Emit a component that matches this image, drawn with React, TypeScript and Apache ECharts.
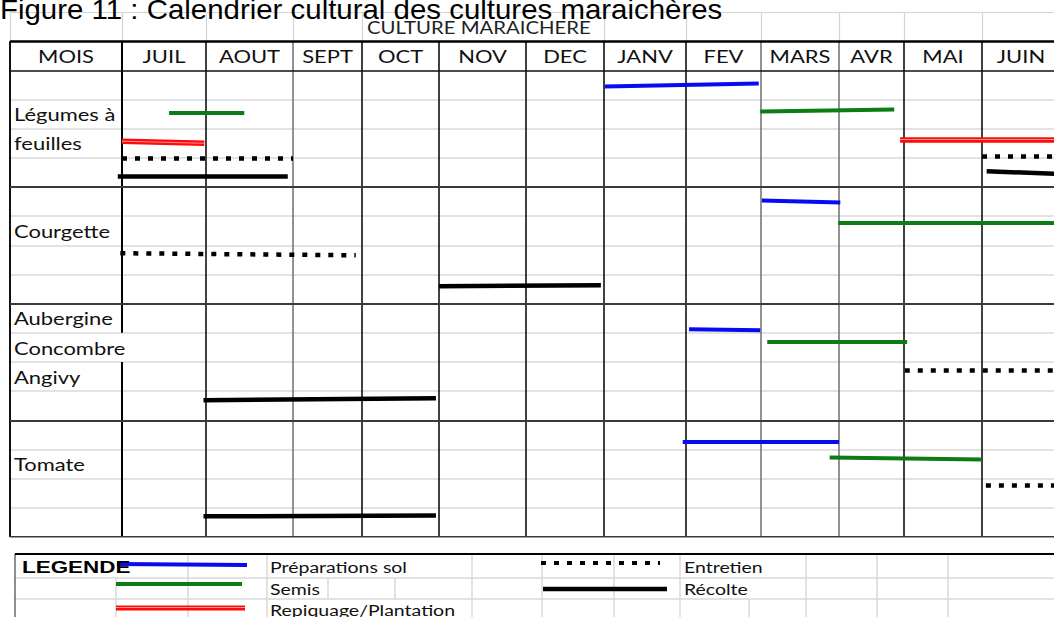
import React, { useEffect, useRef } from 'react';
import * as echarts from 'echarts';

// ---------------- DATA ----------------
const figureTitle = 'Figure 11 : Calendrier cultural des cultures maraichères';
const tableHeader = 'CULTURE MARAICHERE';
const monthColumnTitle = 'MOIS';
const months = ['JUIL', 'AOUT', 'SEPT', 'OCT', 'NOV', 'DEC', 'JANV', 'FEV', 'MARS', 'AVR', 'MAI', 'JUIN'];
// [label, row index] (4 rows per crop block)
const cropLabels: [string, number][] = [
  ['Légumes à', 1],
  ['feuilles', 2],
  ['Courgette', 5],
  ['Aubergine', 8],
  ['Concombre', 9],
  ['Angivy', 10],
  ['Tomate', 13],
];
const cropBlockStarts = [0, 4, 8, 12];
const totalRows = 16;

// segments: [startMonth, startRow, endMonth, endRow] (month 0 = start of JUIL)
const preparationsSol: number[][] = [
  [6.01, 0.55, 7.97, 0.45],
  [8.01, 4.46, 9.02, 4.53],
  [7.04, 8.88, 7.99, 8.91],
  [6.96, 12.72, 9.0, 12.72],
];
const semis: number[][] = [
  [0.56, 1.47, 1.44, 1.47],
  [7.99, 1.41, 9.85, 1.34],
  [8.99, 5.21, 12.0, 5.21],
  [8.08, 9.32, 10.04, 9.32],
  [8.88, 13.27, 11.0, 13.34],
];
const repiquagePlantation: number[][] = [
  [0.0, 2.43, 0.98, 2.5],
  [9.94, 2.37, 12.0, 2.37],
];
const entretien: number[][] = [
  [0.0, 3.02, 2.0, 3.02],
  [11.0, 2.95, 12.0, 2.95],
  [-0.02, 6.27, 2.91, 6.34],
  [10.01, 10.28, 12.0, 10.28],
  [11.05, 14.23, 12.0, 14.23],
];
const recolte: number[][] = [
  [-0.05, 3.63, 1.94, 3.63],
  [11.06, 3.46, 12.0, 3.55],
  [4.0, 7.4, 5.96, 7.37],
  [0.97, 11.31, 3.96, 11.24],
  [0.97, 15.29, 3.96, 15.26],
];

const legendTitle = 'LEGENDE';
const legendLabels = {
  prep: 'Préparations sol',
  semis: 'Semis',
  repiquage: 'Repiquage/Plantation',
  entretien: 'Entretien',
  recolte: 'Récolte',
};

// ---------------- LAYOUT / STYLE ----------------
const WIDTH = 1054;
const HEIGHT = 617;
const MOIS_W = 112;
const COL_W = [84, 87, 69, 77, 87, 78, 82, 75, 78, 65, 78, 78];
const EDGES: number[] = [0];
COL_W.forEach((w) => EDGES.push(EDGES[EDGES.length - 1] + w));
const GRID_LEFT = 10;
const GRID_TOP = 12;
const XMIN = -MOIS_W;
const XMAX = XMIN + (WIDTH - GRID_LEFT); // visible part of the sheet
const YMIN = -2;
const ROW_H = 29.17;

const toX = (m: number) => {
  if (m <= 0) return m * COL_W[0];
  if (m >= 12) return EDGES[12] + (m - 12) * COL_W[11];
  const i = Math.floor(m);
  return EDGES[i] + (m - i) * COL_W[i];
};

const COLORS = {
  blue: '#0a0af2',
  green: '#0b7d14',
  red: '#ff0a0a',
  black: '#000000',
};

const DOT_DASH = [5, 8];
const TABLE_FONT = '18px Lato';
const TABLE_SX = 1.22;
const HEADER_SX = 1.13;
const LEG_FONT = '15px Lato';
const LEG_SX = 1.3;

function buildTableLines() {
  const items: any[] = [];
  const hl = (r: number, color: string, width: number) =>
    items.push({ coords: [[XMIN, r], [XMAX, r]], lineStyle: { color, width } });
  const vl = (x: number, r0: number, r1: number, color: string, width: number) =>
    items.push({ coords: [[x, r0], [x, r1]], lineStyle: { color, width } });
  hl(-2, '#d4d4d4', 1.2);
  for (let r = 1; r < totalRows; r++) {
    if (!cropBlockStarts.includes(r)) hl(r, '#d9d9d9', 1.6);
  }
  // header row verticals (light grey), hidden where header text overflows
  vl(XMIN, -2, -1, '#d4d4d4', 1.2);
  for (let i = 0; i < 12; i++) {
    if (i === 4 || i === 5) continue;
    vl(EDGES[i], -2, -1, '#d4d4d4', 1.2);
  }
  // body verticals
  vl(XMIN, -1, totalRows, '#111', 2);
  for (let i = 0; i < 12; i++) {
    if (i === 0) {
      vl(EDGES[i], -1, 9, '#000', 2);
      vl(EDGES[i], 10, totalRows, '#000', 2);
    } else if (i === 2 || i === 8 || i === 9) {
      vl(EDGES[i], -1, totalRows, '#6e6e6e', 1.5);
    } else {
      vl(EDGES[i], -1, totalRows, '#111', 1.6);
    }
  }
  hl(-1, '#000', 2.6);
  hl(0, '#111', 1.6);
  cropBlockStarts.slice(1).forEach((r) => hl(r, '#3a3a3a', 1.8));
  hl(totalRows, '#3a3a3a', 2.2);
  return items;
}

const segSeries = (name: string, segs: number[][], lineStyle: any, z: number) => ({
  type: 'lines',
  name,
  coordinateSystem: 'cartesian2d',
  polyline: false,
  silent: true,
  z,
  lineStyle,
  data: segs.map(([x0, y0, x1, y1]) => ({ coords: [[toX(x0), y0], [toX(x1), y1]] })),
});

function txt(x: number, y: number, text: string, font: string, sx: number, align = 'left', fill = '#111') {
  return {
    type: 'text',
    x,
    y,
    scaleX: sx,
    silent: true,
    z: 100,
    style: {
      text,
      font,
      fill,
      textAlign: align,
      align,
      textVerticalAlign: 'middle',
      verticalAlign: 'middle',
    },
  };
}

function gLine(x1: number, y1: number, x2: number, y2: number, stroke: string, lineWidth: number, lineDash?: number[]) {
  return {
    type: 'line',
    silent: true,
    z: 50,
    shape: { x1, y1, x2, y2 },
    style: { stroke, lineWidth, lineDash, lineCap: 'butt' },
  };
}

function legendGraphics() {
  const g: any[] = [];
  const L = 15;
  const R = WIDTH;
  const rowsY = [554, 578, 599];
  const bottom = 620;
  const light = '#d9d9d9';
  g.push(gLine(L, 578, R, 578, light, 1.5));
  g.push(gLine(L, 599, R, 599, light, 1.5));
  // vertical grid lines of the legend block: [x, yTop, yBottom]
  const vlines: number[][] = [
    [116, rowsY[1], bottom],
    [188, rowsY[0], bottom],
    [267, rowsY[0], bottom],
    [328, rowsY[1], rowsY[2]],
    [395, rowsY[1], rowsY[2]],
    [472, rowsY[0], bottom],
    [542, rowsY[0], bottom],
    [614, rowsY[0], bottom],
    [680, rowsY[0], bottom],
    [749, rowsY[2], bottom],
    [806, rowsY[0], bottom],
    [877, rowsY[0], bottom],
    [948, rowsY[0], bottom],
  ];
  vlines.forEach(([x, a, b]) => g.push(gLine(x, a, x, b, light, 1.5)));
  g.push(gLine(L, 554, L, bottom, '#444', 1.2));
  g.push(gLine(L, 554, R, 554, '#000', 2));
  // keys
  g.push(gLine(117, 564, 247, 565, COLORS.blue, 4));
  g.push(gLine(116, 584, 242, 584, COLORS.green, 4));
  g.push(gLine(116, 608, 245, 608, COLORS.red, 5));
  g.push(gLine(116, 607.5, 245, 607.5, 'rgba(255,255,255,0.55)', 1));
  g.push(gLine(541, 563, 660, 563, COLORS.black, 4, DOT_DASH));
  g.push(gLine(543, 589, 667, 589, COLORS.black, 4.5));
  // texts
  g.push(txt(22, 567, legendTitle, 'bold 17px "Liberation Sans"', 1.32, 'left', '#000'));
  g.push(txt(270, 567, legendLabels.prep, LEG_FONT, LEG_SX));
  g.push(txt(270, 589, legendLabels.semis, LEG_FONT, LEG_SX));
  g.push(txt(270, 610, legendLabels.repiquage, LEG_FONT, LEG_SX));
  g.push(txt(684, 567, legendLabels.entretien, LEG_FONT, LEG_SX));
  g.push(txt(684, 589, legendLabels.recolte, LEG_FONT, LEG_SX));
  return g;
}

export default function App() {
  const ref = useRef<HTMLDivElement>(null);
  useEffect(() => {
    if (!ref.current) return;
    const chart = echarts.init(ref.current, null, { renderer: 'svg' });
    chart.setOption({
      animation: false,
      backgroundColor: '#ffffff',
      grid: {
        left: GRID_LEFT,
        top: GRID_TOP,
        right: 0,
        height: (totalRows - YMIN) * ROW_H,
      },
      xAxis: { type: 'value', min: XMIN, max: XMAX, show: false },
      yAxis: { type: 'value', min: YMIN, max: totalRows, inverse: true, show: false },
      series: [
        {
          type: 'lines',
          name: 'table',
          coordinateSystem: 'cartesian2d',
          polyline: false,
          silent: true,
          z: 1,
          lineStyle: { color: '#000', width: 1, opacity: 1 },
          data: buildTableLines(),
        },
        segSeries('Préparations sol', preparationsSol, { color: COLORS.blue, width: 4, opacity: 1, cap: 'butt' }, 5),
        segSeries('Semis', semis, { color: COLORS.green, width: 4, opacity: 1, cap: 'butt' }, 5),
        segSeries('Repiquage/Plantation', repiquagePlantation, { color: COLORS.red, width: 5.5, opacity: 1, cap: 'butt' }, 5),
        segSeries('Repiquage/Plantation (reflet)', repiquagePlantation, { color: '#ffffff', width: 1, opacity: 0.55, cap: 'butt' }, 6),
        segSeries('Entretien', entretien, { color: COLORS.black, width: 4.5, opacity: 1, type: DOT_DASH, cap: 'butt' }, 5),
        segSeries('Récolte', recolte, { color: COLORS.black, width: 4.5, opacity: 1, cap: 'butt' }, 5),
      ],
    });

    const P = (x: number, y: number) => chart.convertToPixel({ gridIndex: 0 }, [x, y]) as number[];
    const graphics: any[] = [];
    // title
    graphics.push(txt(0, 9.5, figureTitle, '27px "Liberation Sans"', 1.09, 'left', '#000'));
    // merged header
    const h = P(toX(3) + 5, -1.5);
    graphics.push(txt(h[0], h[1], tableHeader, TABLE_FONT, HEADER_SX, 'left', '#222'));
    // month headers
    const m0 = P(XMIN / 2, -0.5);
    graphics.push(txt(m0[0], m0[1], monthColumnTitle, TABLE_FONT, TABLE_SX, 'center'));
    months.forEach((m, i) => {
      const p = P(toX(i + 0.5), -0.5);
      graphics.push(txt(p[0], p[1], m, TABLE_FONT, TABLE_SX, 'center'));
    });
    // crop labels
    cropLabels.forEach(([label, row]) => {
      const p = P(XMIN + 4, row + 0.5);
      graphics.push(txt(p[0], p[1], label, TABLE_FONT, TABLE_SX, 'left'));
    });
    legendGraphics().forEach((g) => graphics.push(g));
    chart.setOption({ graphic: graphics });

    return () => chart.dispose();
  }, []);
  return (
    <div
      ref={ref}
      style={{ position: 'fixed', left: 0, top: 0, width: WIDTH, height: HEIGHT, background: '#fff' }}
    />
  );
}
